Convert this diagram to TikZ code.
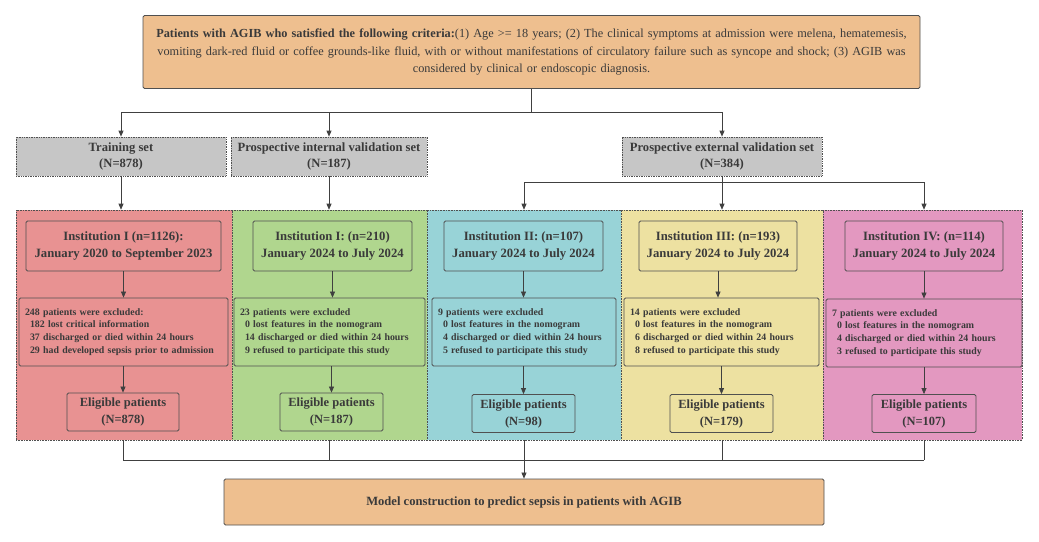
\documentclass[tikz,border=0pt]{standalone}
\usepackage{fontspec}
\setmainfont{Liberation Serif}
\usetikzlibrary{arrows.meta}
\definecolor{peach}{HTML}{EEBF8F}
\definecolor{grayfill}{HTML}{C6C6C6}
\definecolor{redp}{HTML}{E89292}
\definecolor{greenp}{HTML}{B0D68E}
\definecolor{cyanp}{HTML}{98D3D7}
\definecolor{yellowp}{HTML}{EDE1A1}
\definecolor{pinkp}{HTML}{E398C0}
\definecolor{txt}{HTML}{3A3A3A}
\definecolor{bord}{HTML}{505050}
\definecolor{linec}{HTML}{404040}
\begin{document}
\begin{tikzpicture}[x=1pt,y=-1pt,
  panel/.style={draw=bord, densely dotted, line width=0.6pt, inner sep=0pt, minimum height=230pt},
  graybox/.style={draw=bord, densely dotted, line width=0.7pt, fill=grayfill, inner sep=0pt, minimum height=39pt, align=center, text=txt, font=\fontsize{12.6}{16.5}\selectfont\bfseries},
  instbox/.style={draw=bord, line width=0.8pt, rounded corners=1.5pt, inner sep=0pt, minimum height=50pt, align=center, text=txt, font=\fontsize{12.7}{16.5}\selectfont\bfseries},
  exclbox/.style={draw=bord, line width=0.8pt, rounded corners=1.5pt, inner sep=6pt, minimum height=68pt, align=left, text=txt, font=\fontsize{9.85}{12.8}\selectfont\bfseries},
  eligbox/.style={draw=bord, line width=0.8pt, rounded corners=1.5pt, inner sep=0pt, minimum height=38pt, align=center, text=txt, font=\fontsize{12.5}{17}\selectfont\bfseries},
  mainbox/.style={draw=bord, line width=0.8pt, rounded corners=1.5pt, fill=peach, inner sep=0pt, align=center, text=txt},
  conn/.style={draw=linec, line width=0.7pt},
  arr/.style={conn, -{Triangle[length=6pt,width=5pt]}}
]
\useasboundingbox (0,0) rectangle (1039,541);

% top box
\node[mainbox, minimum width=777pt, minimum height=73pt, text width=770pt, font=\fontsize{12.3}{17.5}\selectfont] (top) at (531.5,52)
 {\textbf{Patients with AGIB who satisfied the following criteria:}(1) Age >= 18 years; (2) The clinical symptoms at admission were melena, hematemesis,\\ vomiting dark-red fluid or coffee grounds-like fluid, with or without manifestations of circulatory failure such as syncope and shock; (3) AGIB was\\ considered by clinical or endoscopic diagnosis.};

% gray set boxes
\node[graybox, minimum width=210pt] (train) at (121,156.5) {Training set\\(N=878)};
\node[graybox, minimum width=196pt] (intv) at (329,156.5) {Prospective internal validation set\\(N=187)};
\node[graybox, minimum width=200pt] (extv) at (722,156.5) {Prospective external validation set\\(N=384)};

% panels
\node[panel, fill=redp, minimum width=216pt] (p1) at (124,325) {};
\node[panel, fill=greenp, minimum width=195pt] (p2) at (329.5,325) {};
\node[panel, fill=cyanp, minimum width=194pt] (p3) at (524,325) {};
\node[panel, fill=yellowp, minimum width=202pt] (p4) at (722,325) {};
\node[panel, fill=pinkp, minimum width=199pt] (p5) at (922.5,325) {};

% institution boxes
\node[instbox, fill=redp, minimum width=195pt] (i1) at (123.5,246) {Institution I (n=1126):\\January 2020 to September 2023};
\node[instbox, fill=greenp, minimum width=159pt] (i2) at (332.5,246) {Institution I: (n=210)\\January 2024 to July 2024};
\node[instbox, fill=cyanp, minimum width=159pt] (i3) at (523.5,246) {Institution II: (n=107)\\January 2024 to July 2024};
\node[instbox, fill=yellowp, minimum width=158pt] (i4) at (718,246) {Institution III: (n=193)\\January 2024 to July 2024};
\node[instbox, fill=pinkp, minimum width=158pt] (i5) at (924,246) {Institution IV: (n=114)\\January 2024 to July 2024};

% exclusion boxes
\node[exclbox, fill=redp, text width=197pt] (e1) at (123.5,332) {248 patients were excluded:\\\hspace*{5pt}182 lost critical information\\\hspace*{5pt}37 discharged or died within 24 hours\\\hspace*{5pt}29 had developed sepsis prior to admission};
\node[exclbox, fill=greenp, text width=179pt] (e2) at (329.5,332) {23 patients were excluded\\\hspace*{5pt}0 lost features in the nomogram\\\hspace*{5pt}14 discharged or died within 24 hours\\\hspace*{5pt}9 refused to participate this study};
\node[exclbox, fill=cyanp, text width=172pt] (e3) at (524,332) {9 patients were excluded\\\hspace*{5pt}0 lost features in the nomogram\\\hspace*{5pt}4 discharged or died within 24 hours\\\hspace*{5pt}5 refused to participate this study};
\node[exclbox, fill=yellowp, text width=183pt] (e4) at (721.5,332) {14 patients were excluded\\\hspace*{5pt}0 lost features in the nomogram\\\hspace*{5pt}6 discharged or died within 24 hours\\\hspace*{5pt}8 refused to participate this study};
\node[exclbox, fill=pinkp, text width=184pt] (e5) at (924,333) {7 patients were excluded\\\hspace*{5pt}0 lost features in the nomogram\\\hspace*{5pt}4 discharged or died within 24 hours\\\hspace*{5pt}3 refused to participate this study};

% eligible boxes
\node[eligbox, fill=redp, minimum width=112pt] (g1) at (123,412) {Eligible patients\\(N=878)};
\node[eligbox, fill=greenp, minimum width=103pt] (g2) at (331.5,412) {Eligible patients\\(N=187)};
\node[eligbox, fill=cyanp, minimum width=103pt] (g3) at (523.5,413.5) {Eligible patients\\(N=98)};
\node[eligbox, fill=yellowp, minimum width=103pt] (g4) at (721.5,413.5) {Eligible patients\\(N=179)};
\node[eligbox, fill=pinkp, minimum width=104pt] (g5) at (924,413.5) {Eligible patients\\(N=107)};

% bottom box
\node[mainbox, minimum width=600pt, minimum height=46pt, font=\fontsize{12.6}{15}\selectfont\bfseries] (bot) at (524,502) {Model construction to predict sepsis in patients with AGIB};

% top connectors
\coordinate (busA) at (0,112);
\draw[conn] (top.south) -- (top.south |- busA);
\draw[conn] (train.north |- busA) -- (extv.north |- busA);
\draw[arr] (train.north |- busA) -- (train.north);
\draw[arr] (intv.north |- busA) -- (intv.north);
\draw[arr] (extv.north |- busA) -- (extv.north);

% set to panels
\draw[arr] (train.south) -- (train.south |- p1.north);
\draw[arr] (intv.south) -- (intv.south |- p2.north);
\coordinate (busB) at (0,182);
\draw[conn] (extv.south) -- (extv.south |- busB);
\draw[conn] (p3.north |- busB) -- (i5.north |- busB);
\draw[arr] (p3.north |- busB) -- (p3.north);
\draw[arr] (extv.south |- busB) -- (extv.south |- p4.north);
\draw[arr] (i5.north |- busB) -- (i5.north |- p5.north);

% within panels
\foreach \k in {1,...,5} {
  \draw[arr] (i\k.south) -- (i\k.south |- e\k.north);
  \draw[arr] (g\k.north |- e\k.south) -- (g\k.north);
}

% bottom connectors
\coordinate (busC) at (0,460);
\draw[conn] (g1.south |- p1.south) -- (g1.south |- busC);
\draw[conn] (intv.south |- p2.south) -- (intv.south |- busC);
\draw[conn] (extv.south |- p4.south) -- (extv.south |- busC);
\draw[conn] (i5.south |- p5.south) -- (i5.south |- busC);
\draw[conn] (g1.south |- busC) -- (i5.south |- busC);
\draw[arr] (p3.south) -- (bot.north);
\end{tikzpicture}
\end{document}
